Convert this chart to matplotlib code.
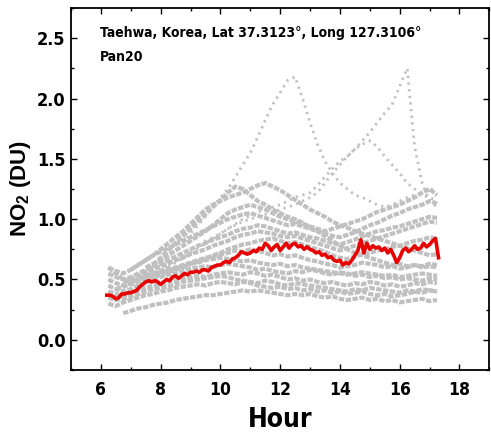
import numpy as np
import matplotlib
matplotlib.use("Agg")
import matplotlib.pyplot as plt
from matplotlib import font_manager
from matplotlib.ticker import MultipleLocator

nan = np.nan

# red mean curve, every 0.1 h from 6.2 to 17.3
mean_hours = np.round(np.arange(6.2, 17.31, 0.1), 2)
mean_no2 = [
    0.37, 0.37, 0.36, 0.34, 0.35, 0.38, 0.38, 0.39, 0.39, 0.40,
    0.41, 0.44, 0.46, 0.48, 0.49, 0.48, 0.49, 0.48, 0.46, 0.48,
    0.50, 0.49, 0.52, 0.53, 0.51, 0.53, 0.55, 0.54, 0.56, 0.56,
    0.57, 0.56, 0.58, 0.58, 0.57, 0.60, 0.61, 0.62, 0.62, 0.64,
    0.65, 0.64, 0.67, 0.68, 0.70, 0.73, 0.72, 0.71, 0.72, 0.74,
    0.73, 0.76, 0.75, 0.80, 0.78, 0.74, 0.77, 0.79, 0.74, 0.77,
    0.80, 0.76, 0.79, 0.80, 0.77, 0.78, 0.75, 0.77, 0.75, 0.74,
    0.72, 0.73, 0.70, 0.71, 0.68, 0.69, 0.66, 0.65, 0.66, 0.62,
    0.64, 0.63, 0.66, 0.70, 0.74, 0.83, 0.72, 0.80, 0.75, 0.78,
    0.76, 0.77, 0.74, 0.76, 0.72, 0.75, 0.70, 0.64, 0.68, 0.74,
    0.76, 0.73, 0.75, 0.78, 0.75, 0.76, 0.80, 0.77, 0.79, 0.82,
    0.84, 0.68,
]

# individual days (gray), every 0.25 h from 6.25 to 17.25
day_hours = np.arange(6.25, 17.26, 0.25)
day01 = [nan, nan, 0.22, 0.24, 0.26, 0.27, 0.29, 0.30, 0.31, 0.33, 0.34, 0.35, 0.36, 0.37, 0.37,
         0.38, 0.39, 0.40, 0.41, 0.40, 0.41, 0.40, 0.39, 0.38, 0.37, 0.38, 0.37, 0.38, 0.36, 0.35,
         0.36, 0.34, 0.33, 0.34, 0.35, 0.33, 0.34, 0.32, 0.33, 0.31, 0.32, 0.33, 0.34, 0.32, 0.33]
day02 = [0.30, 0.28, 0.31, 0.33, 0.35, 0.37, 0.38, 0.40, 0.41, 0.43, 0.44, 0.45, 0.46, 0.45, 0.47,
         0.48, 0.47, 0.46, 0.48, 0.47, 0.45, 0.44, 0.43, 0.44, 0.42, 0.43, 0.41, 0.42, 0.40, 0.41,
         0.39, 0.40, 0.38, 0.39, 0.40, 0.38, 0.37, 0.38, 0.36, 0.37, 0.38, 0.40, 0.39, 0.41, 0.40]
day03 = [0.40, 0.38, 0.36, 0.39, 0.41, 0.43, 0.45, 0.46, 0.48, 0.49, 0.51, 0.52, 0.53, 0.52, 0.54,
         0.55, 0.56, 0.55, 0.54, 0.56, 0.55, 0.53, 0.54, 0.52, 0.50, 0.51, 0.49, 0.50, 0.48, 0.47,
         0.48, 0.46, 0.45, 0.47, 0.46, 0.48, 0.47, 0.45, 0.46, 0.44, 0.45, 0.47, 0.46, 0.48, 0.47]
day04 = [0.45, 0.42, 0.40, 0.42, 0.45, 0.47, 0.50, 0.52, 0.54, 0.55, 0.57, 0.59, 0.60, 0.61, 0.60,
         0.62, 0.63, 0.62, 0.61, 0.60, 0.58, 0.59, 0.57, 0.56, 0.55, 0.57, 0.56, 0.58, 0.57, 0.55,
         0.54, 0.56, 0.55, 0.53, 0.54, 0.52, 0.53, 0.51, 0.52, 0.50, 0.51, 0.50, 0.49, 0.51, 0.50]
day05 = [0.50, 0.47, 0.45, 0.47, 0.50, 0.53, 0.55, 0.57, 0.59, 0.60, 0.62, 0.64, 0.66, 0.68, 0.69,
         0.71, 0.72, 0.74, 0.73, 0.75, 0.74, 0.72, 0.70, 0.71, 0.69, 0.70, 0.68, 0.66, 0.65, 0.63,
         0.62, 0.60, 0.61, 0.62, 0.64, 0.63, 0.62, 0.60, 0.61, 0.59, 0.60, 0.62, 0.61, 0.63, 0.62]
day06 = [nan, 0.42, 0.44, 0.46, 0.48, 0.50, 0.52, 0.54, 0.56, 0.58, 0.60, 0.63, 0.65, 0.67, 0.70,
         0.72, 0.75, 0.77, 0.79, 0.80, 0.82, 0.83, 0.84, 0.82, 0.80, 0.81, 0.79, 0.77, 0.75, 0.73,
         0.70, 0.68, 0.67, 0.69, 0.71, 0.72, 0.74, 0.75, 0.77, 0.78, 0.80, 0.82, 0.83, 0.85, 0.84]
day07 = [0.55, 0.52, 0.50, 0.52, 0.55, 0.58, 0.61, 0.63, 0.66, 0.69, 0.72, 0.75, 0.78, 0.80, 0.83,
         0.85, 0.87, 0.90, 0.92, 0.93, 0.95, 0.94, 0.92, 0.90, 0.88, 0.89, 0.87, 0.85, 0.84, 0.82,
         0.80, 0.79, 0.81, 0.83, 0.86, 0.88, 0.90, 0.91, 0.93, 0.94, 0.96, 0.98, 1.00, 1.02, 1.01]
day08 = [0.60, 0.57, 0.55, 0.58, 0.62, 0.66, 0.70, 0.73, 0.76, 0.79, 0.82, 0.85, 0.88, 0.91, 0.94,
         0.97, 1.00, 1.02, 1.04, 1.05, 1.03, 1.01, 0.99, 0.97, 0.95, 0.96, 0.94, 0.92, 0.90, 0.88,
         0.86, 0.85, 0.87, 0.89, 0.92, 0.95, 0.97, 1.00, 1.03, 1.05, 1.08, 1.10, 1.12, 1.15, 1.13]
day09 = [nan, nan, nan, nan, 0.50, 0.56, 0.62, 0.68, 0.74, 0.80, 0.86, 0.92, 0.98, 1.04, 1.10,
         1.16, 1.22, 1.27, 1.25, 1.20, 1.15, 1.12, 1.08, 1.05, 1.02, 1.00, 0.97, 0.93, 0.90, 0.86,
         0.82, 0.78, 0.75, 0.72, 0.70, 0.68, 0.66, 0.64, 0.62, 0.63, 0.61, 0.62, 0.60, 0.61, 0.60]
day10 = [nan, nan, nan, 0.58, 0.62, 0.66, 0.70, 0.75, 0.80, 0.85, 0.90, 0.96, 1.02, 1.08, 1.12,
         1.15, 1.18, 1.20, 1.22, 1.25, 1.28, 1.30, 1.27, 1.24, 1.20, 1.16, 1.12, 1.08, 1.05, 1.02,
         0.98, 0.95, 0.93, 0.90, 0.88, 0.86, 0.84, 0.82, 0.80, 0.78, 0.76, 0.74, 0.72, 0.70, 0.71]
day11 = [nan, nan, nan, nan, nan, nan, nan, nan, nan, nan, 0.80, 0.88, 0.95, 1.02, 1.10,
         1.18, 1.25, 1.35, 1.45, 1.55, 1.68, 1.82, 1.95, 2.05, 2.15, 2.18, 2.00, 1.80, 1.62, 1.48,
         1.38, 1.30, 1.25, 1.20, 1.18, 1.15, 1.12, 1.10, 1.12, 1.15, 1.18, 1.20, 1.22, 1.25, 1.24]
day12 = [nan, nan, nan, nan, nan, nan, 0.55, 0.58, 0.62, 0.66, 0.70, 0.74, 0.78, 0.82, 0.85,
         0.88, 0.92, 0.95, 0.98, 1.00, 1.02, 1.04, 1.05, 1.08, 1.10, 1.12, 1.15, 1.18, 1.22, 1.30,
         1.38, 1.45, 1.52, 1.58, 1.65, 1.72, 1.80, 1.88, 1.95, 2.10, 2.25, 1.60, 1.30, 1.15, 1.10]
day13 = [nan, nan, nan, nan, nan, nan, nan, nan, 0.60, 0.64, 0.68, 0.72, 0.76, 0.80, 0.84,
         0.88, 0.92, 0.96, 1.00, 1.03, 1.06, 1.08, 1.10, 1.12, 1.15, 1.18, 1.20, 1.22, 1.28, 1.35,
         1.42, 1.48, 1.52, 1.58, 1.62, 1.65, 1.60, 1.52, 1.45, 1.38, 1.30, 1.25, 1.20, 1.18, 1.15]
day14 = [nan, nan, 0.48, 0.50, 0.53, 0.56, 0.58, 0.61, 0.63, 0.66, 0.68, 0.71, 0.73, 0.75, 0.78,
         0.80, 0.82, 0.85, 0.87, 0.88, 0.90, 0.89, 0.88, 0.86, 0.85, 0.86, 0.84, 0.82, 0.80, 0.78,
         0.76, 0.74, 0.76, 0.78, 0.80, 0.82, 0.84, 0.86, 0.88, 0.90, 0.92, 0.94, 0.96, 0.98, 0.97]
day15 = [0.35, 0.33, 0.34, 0.36, 0.38, 0.40, 0.42, 0.43, 0.44, 0.46, 0.48, 0.49, 0.50, 0.51, 0.52,
         0.53, 0.52, 0.50, 0.49, 0.48, 0.47, 0.49, 0.48, 0.46, 0.45, 0.47, 0.46, 0.45, 0.44, 0.43,
         0.42, 0.41, 0.40, 0.42, 0.41, 0.43, 0.42, 0.41, 0.40, 0.39, 0.41, 0.40, 0.42, 0.41, 0.40]
day16 = [nan, nan, nan, nan, nan, 0.60, 0.63, 0.66, 0.70, 0.74, 0.78, 0.82, 0.86, 0.90, 0.95,
         1.00, 1.05, 1.08, 1.10, 1.12, 1.10, 1.08, 1.05, 1.02, 1.00, 0.98, 0.96, 0.94, 0.92, 0.90,
         0.92, 0.94, 0.96, 0.98, 1.00, 1.03, 1.06, 1.08, 1.10, 1.12, 1.15, 1.18, 1.22, 1.25, 1.20]
day17 = [0.60, 0.55, 0.50, 0.48, 0.50, 0.52, 0.54, 0.56, 0.57, 0.59, 0.61, 0.63, 0.64, 0.66, 0.67,
         0.68, 0.67, 0.66, 0.65, 0.66, 0.64, 0.63, 0.62, 0.63, 0.61, 0.62, 0.60, 0.59, 0.58, 0.57,
         0.56, 0.55, 0.54, 0.55, 0.56, 0.55, 0.54, 0.53, 0.54, 0.52, 0.53, 0.54, 0.55, 0.54, 0.53]
bulk_days = [day01, day02, day03, day04, day05, day06, day07, day08, day09,
             day10, day14, day15, day16, day17]
spiky_days = [day11, day12, day13]

# condensed bold font if the system has one
cond = None
for f in font_manager.fontManager.ttflist:
    if 'Condensed' in f.fname and 'Bold' in f.fname and 'Oblique' not in f.fname \
            and 'Mono' not in f.fname and 'Serif' not in f.fname:
        cond = f.fname
        break
if cond:
    small = font_manager.FontProperties(fname=cond)
else:
    small = font_manager.FontProperties(family='DejaVu Sans', weight='bold')

fig = plt.figure(figsize=(4.91, 4.38), dpi=100)
ax = fig.add_axes([0.1446, 0.1553, 0.852, 0.8264])

for d in bulk_days:
    ax.plot(day_hours, d, color='#c0c0c0', lw=3.0, dashes=(1.3, 0.35), zorder=1)
for d in spiky_days:
    ax.plot(day_hours, d, color='#c0c0c0', lw=2.0, dashes=(0.8, 1.6), zorder=1)
ax.plot(mean_hours, mean_no2, '-', color='#e60000', lw=2.6, zorder=3)

ax.set_xlim(5, 19)
ax.set_ylim(-0.25, 2.75)
ax.xaxis.set_major_locator(MultipleLocator(2))
ax.xaxis.set_minor_locator(MultipleLocator(1))
ax.yaxis.set_major_locator(MultipleLocator(0.5))
ax.yaxis.set_minor_locator(MultipleLocator(0.25))
ax.tick_params(which='both', direction='in', top=True, right=True, width=1.0)
ax.tick_params(which='major', length=4)
ax.tick_params(which='minor', length=2.5)
ax.tick_params(axis='x', pad=8)
ax.tick_params(axis='y', pad=4)
for s in ax.spines.values():
    s.set_linewidth(1.3)

for lab in ax.get_xticklabels():
    lab.set_fontproperties(small)
    lab.set_fontsize(12.5)
for lab in ax.get_yticklabels():
    lab.set_fontproperties(small)
    lab.set_fontsize(13)

xl = ax.set_xlabel('Hour', labelpad=6)
xl.set_fontproperties(small)
xl.set_fontsize(19)
plt.rcParams['mathtext.default'] = 'regular'
ax.set_ylabel('NO$_2$ (DU)', family=['Liberation Sans', 'DejaVu Sans'],
              fontweight='bold', fontsize=16, labelpad=3)

t1 = ax.text(0.069, 0.93, 'Taehwa, Korea, Lat 37.3123°, Long 127.3106°', transform=ax.transAxes,
             va='center', ha='left', fontproperties=small)
t1.set_fontsize(10)
t2 = ax.text(0.069, 0.865, 'Pan20', transform=ax.transAxes,
             va='center', ha='left', fontproperties=small)
t2.set_fontsize(10)

fig.savefig('out.png', dpi=100)
